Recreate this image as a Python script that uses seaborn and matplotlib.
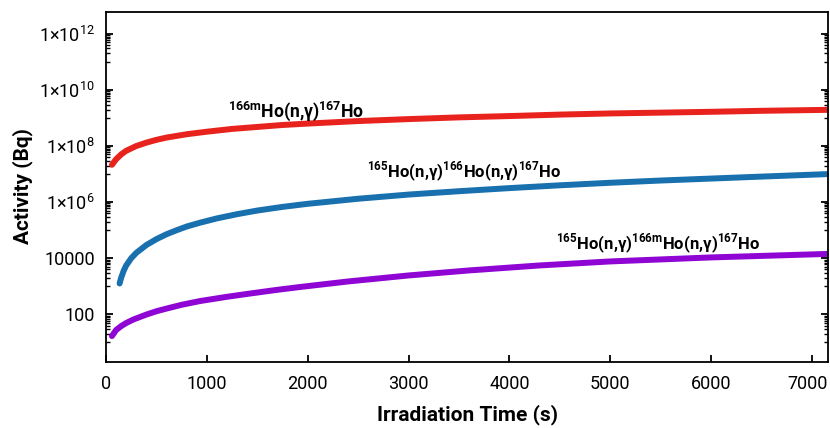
import numpy as np
import pandas as pd
import matplotlib
matplotlib.use("Agg")
import matplotlib.pyplot as plt
import matplotlib.transforms as mtransforms
import seaborn as sns
from matplotlib.ticker import FixedLocator, FuncFormatter, NullFormatter

# ---- data ----
t_red = [59, 100, 150, 200, 300, 400, 500, 600, 800, 1000, 1250, 1500, 1750, 2000, 2500,
         3000, 3500, 4000, 4500, 5000, 5500, 6000, 6500, 7160]
a_red = [2.14e7, 3.39e7, 5.01e7, 6.76e7, 1.0e8, 1.32e8, 1.66e8, 2.0e8, 2.63e8, 3.24e8,
         4.07e8, 4.79e8, 5.62e8, 6.31e8, 7.76e8, 9.12e8, 1.05e9, 1.17e9, 1.32e9, 1.45e9,
         1.55e9, 1.66e9, 1.80e9, 1.95e9]

t_blue = [135, 150, 175, 200, 250, 300, 400, 500, 600, 700, 800, 935, 1100, 1300, 1500,
          1750, 2000, 2500, 3000, 3500, 4000, 4500, 5000, 5500, 6000, 6500, 7160]
a_blue = [1.26e3, 2.0e3, 3.55e3, 5.5e3, 1.0e4, 1.55e4, 2.95e4, 4.79e4, 7.16e4, 9.95e4,
          1.35e5, 1.86e5, 2.63e5, 3.72e5, 5.01e5, 6.76e5, 8.71e5, 1.32e6, 1.86e6, 2.45e6,
          3.16e6, 3.98e6, 4.90e6, 5.89e6, 6.92e6, 8.13e6, 1.0e7]

t_purple = [59, 100, 150, 200, 274, 400, 500, 605, 750, 935, 1200, 1430, 1700, 1925, 2400,
            3000, 3600, 4300, 5000, 6000, 7160]
a_purple = [16.8, 27.5, 38, 49, 66, 98, 129, 162, 219, 299, 422, 553, 750, 944, 1486,
            2432, 3673, 5534, 7690, 10690, 14260]

labels = [r"$^{\mathbf{166m}}$Ho(n,γ)$^{\mathbf{167}}$Ho",
          r"$^{\mathbf{165}}$Ho(n,γ)$^{\mathbf{166}}$Ho(n,γ)$^{\mathbf{167}}$Ho",
          r"$^{\mathbf{165}}$Ho(n,γ)$^{\mathbf{166m}}$Ho(n,γ)$^{\mathbf{167}}$Ho"]
label_t = [1212, 2589, 4463]
label_a = [1.12e9, 7.4e6, 2.1e4]
label_size = [12.7, 12, 12]

y_major = [1e2, 1e4, 1e6, 1e8, 1e10, 1e12]
x_major = [0, 1000, 2000, 3000, 4000, 5000, 6000, 7000]

colors = ["#E8231E", "#1870AE", "#8E05D4"]

df = pd.concat([
    pd.DataFrame({"t": t_red, "A": a_red, "s": "red"}),
    pd.DataFrame({"t": t_blue, "A": a_blue, "s": "blue"}),
    pd.DataFrame({"t": t_purple, "A": a_purple, "s": "purple"}),
])

sns.set_theme(style="ticks")
plt.rcParams["font.family"] = ["Roboto", "DejaVu Sans"]
plt.rcParams["mathtext.fontset"] = "custom"
plt.rcParams["mathtext.rm"] = "Roboto"
plt.rcParams["mathtext.bf"] = "Roboto:bold"

fig = plt.figure(figsize=(8.3, 4.28), dpi=100)
ax = fig.add_axes([0.1277, 0.1542, 0.8699, 0.8178])

sns.lineplot(data=df, x="t", y="A", hue="s", palette=dict(zip(["red", "blue", "purple"], colors)),
             linewidth=4.3, legend=False, estimator=None, sort=False, ax=ax)

ax.set_yscale("log")
ax.set_xlim(0, 7160)
ax.set_ylim(2, 6e12)

ax.yaxis.set_major_locator(FixedLocator(y_major))
minor = []
for k in range(1, 13, 2):
    for m in range(1, 10):
        minor.append(m * 10.0 ** k)
ax.yaxis.set_minor_locator(FixedLocator(minor))
ax.yaxis.set_minor_formatter(NullFormatter())


def yfmt(v, pos):
    e = int(round(np.log10(v)))
    if e <= 4:
        return f"{int(round(v))}"
    return "1×10$^{" + str(e) + "}$"


ax.yaxis.set_major_formatter(FuncFormatter(yfmt))
ax.xaxis.set_major_locator(FixedLocator(x_major))

ax.tick_params(axis="both", which="both", direction="in", right=True, top=False,
               colors="black", labelcolor="black", labelsize=13)
ax.tick_params(axis="y", which="major", length=5, width=1.3, pad=8)
ax.tick_params(axis="y", which="minor", length=3, width=1.0)
ax.tick_params(axis="x", which="major", length=5, width=1.3, pad=9)
for sp in ax.spines.values():
    sp.set_visible(True)
    sp.set_linewidth(1.3)
    sp.set_color("black")

# keep the last x tick label ("7000") inside the canvas
last_tick = ax.xaxis.get_major_ticks()[-1]
last_tick.label1.set_transform(last_tick.label1.get_transform() +
                               mtransforms.ScaledTranslation(-4 / 100, 0, fig.dpi_scale_trans))

lab_font = dict(family=["Roboto", "DejaVu Sans"], weight="bold", size=15, color="black")
ax.set_xlabel("Irradiation Time (s)", **lab_font)
ax.set_ylabel("Activity (Bq)", **lab_font)
ax.xaxis.set_label_coords(0.501, -0.12)
ax.yaxis.set_label_coords(-0.101, 0.503)

for txt, tx, ty, fs in zip(labels, label_t, label_a, label_size):
    ax.text(tx, ty, txt, ha="left", va="baseline", fontsize=fs,
            family=["Roboto", "DejaVu Sans"], weight="bold", color="black")

fig.savefig("out.png", dpi=100, facecolor="white")
